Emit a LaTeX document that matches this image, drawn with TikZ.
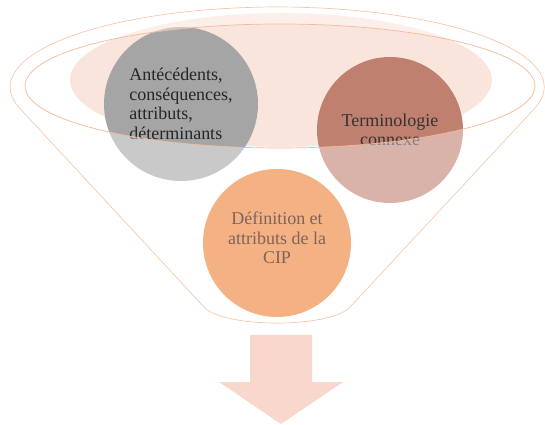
\documentclass[tikz,border=0pt]{standalone}
\usepackage{fontspec}
\setmainfont{Liberation Serif}
\usetikzlibrary{calc}

\definecolor{funnelline}{RGB}{242,186,150}
\definecolor{rimfill}{RGB}{250,229,220}
\definecolor{greyball}{RGB}{165,165,165}
\definecolor{brownball}{RGB}{192,128,112}
\definecolor{orangeball}{RGB}{244,177,131}
\definecolor{arrowfill}{RGB}{248,216,204}
\definecolor{ciptext}{RGB}{125,100,90}

% outline of the funnel (top rim arc, two sides, rounded bottom)
\newcommand{\funnelbody}{(lefttop) arc[start angle=164.45, end angle=375.55, x radius=267, y radius=80]
    -- (rightbot) .. controls (342,316) and (314,323) .. (277,323)
    .. controls (240,323) and (212,316) .. (leftbot) -- cycle}

\begin{document}
\begin{tikzpicture}[x=0.25mm, y=-0.25mm,
    ball/.style={circle, inner sep=0pt},
    balltext/.style={font=\fontsize{12.8}{13.9}\selectfont, inner sep=0pt}]
  \useasboundingbox (0,0) rectangle (545,425);

  \coordinate (lefttop) at (20,108.5);
  \coordinate (leftbot) at (204,307);
  \coordinate (rightbot) at (350,307);

  % funnel
  \filldraw[funnelline, fill=white, line width=0.5pt] \funnelbody;
  \fill[rimfill] (281,80) ellipse [x radius=211, y radius=67];

  \node[ball, fill=greyball, minimum size=38.5mm] (antecedents) at (181,104) {};
  \node[balltext, align=left, text=black!85] at (antecedents)
    {Antécédents,\\conséquences,\\attributs,\\déterminants};

  \node[ball, fill=brownball, minimum size=36.5mm] (terminologie) at (390,130) {};
  \node[balltext, align=center, text=black!80] at (terminologie)
    {Terminologie\\connexe};

  % veil over the lower part
  \fill[white, opacity=0.4, even odd rule] \funnelbody
    (280,86) ellipse [x radius=255, y radius=62];
  \draw[funnelline, line width=0.5pt] (280,86) ellipse [x radius=255, y radius=62];

  \node[ball, fill=orangeball, minimum size=37mm] (cip) at (277,243) {};
  \node[balltext, align=center, text=ciptext] at ($(cip)+(0,-5)$)
    {Définition et\\attributs de la\\CIP};

  % arrow
  \fill[arrowfill] (250,335) -- (312,335) -- (312,382) -- (343,382)
    -- (281,424) -- (219,382) -- (250,382) -- cycle;
\end{tikzpicture}
\end{document}
